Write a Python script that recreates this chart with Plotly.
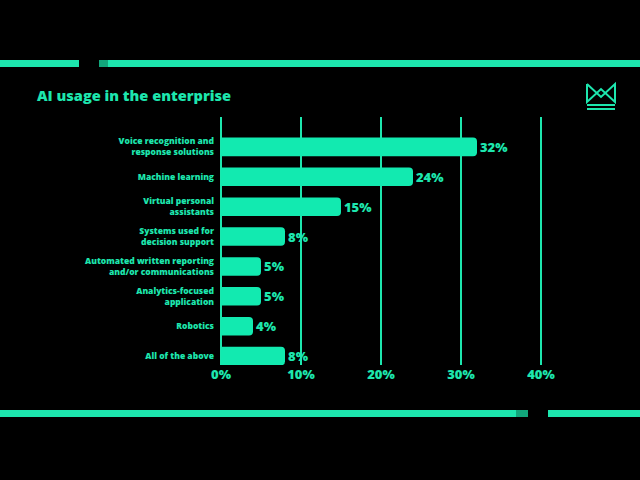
import plotly.graph_objects as go

categories = [
    "Voice recognition and<br>response solutions",
    "Machine learning",
    "Virtual personal<br>assistants",
    "Systems used for<br>decision support",
    "Automated written reporting<br>and/or communications",
    "Analytics-focused<br>application",
    "Robotics",
    "All of the above",
]
values = [32, 24, 15, 8, 5, 5, 4, 8]
x_ticks = [0, 10, 20, 30, 40]
x_tick_labels = ["0%", "10%", "20%", "30%", "40%"]
title_text = "AI usage in the enterprise"

MINT = "#1de6ae"
BAR = "#12eab0"
FONT = "Open Sans"

fig = go.Figure()
fig.add_trace(go.Bar(
    x=values,
    y=categories,
    orientation="h",
    width=0.62,
    marker=dict(color=BAR, line=dict(width=0)),
    text=[f"{v}%" for v in values],
    textposition="outside",
    cliponaxis=False,
    textfont=dict(family=FONT, size=13, color=MINT, weight=800),
))

L, R, T, B = 221, 95, 117, 115
fig.update_layout(
    width=640,
    height=480,
    paper_bgcolor="black",
    plot_bgcolor="black",
    margin=dict(l=L, r=R, t=T, b=B),
    barcornerradius=4,
    showlegend=False,
    xaxis=dict(
        range=[0, 40.5],
        tickvals=x_ticks,
        ticktext=x_tick_labels,
        showgrid=True,
        gridcolor=MINT,
        gridwidth=2,
        zeroline=True,
        zerolinecolor=MINT,
        zerolinewidth=2,
        showline=False,
        tickfont=dict(family=FONT, size=13, color=MINT, weight=800),
        ticks="",
        fixedrange=True,
    ),
    yaxis=dict(
        range=[7.3, -1.0],
        showgrid=False,
        zeroline=False,
        showline=False,
        ticks="",
        ticklabelstandoff=6,
        tickfont=dict(family=FONT, size=8.5, color=MINT, weight=800),
        fixedrange=True,
    ),
)

plot_w = 640 - L - R
plot_h = 480 - T - B
def px_x(px):
    return (px - L) / plot_w
def px_y(py):
    return (480 - B - py) / plot_h

fig.add_annotation(
    text=title_text,
    x=px_x(35), y=px_y(95), xref="paper", yref="paper",
    xanchor="left", yanchor="middle", showarrow=False,
    font=dict(family=FONT, size=14.6, color=MINT, weight=800),
)

# Decorative strips
shapes = []
def rect(x0, x1, y0, y1, color):
    shapes.append(dict(type="rect", xref="paper", yref="paper",
                       x0=px_x(x0), x1=px_x(x1), y0=px_y(y1), y1=px_y(y0),
                       fillcolor=color, line=dict(width=0), layer="above"))

rect(0, 79, 60, 67, MINT)
rect(99, 108, 60, 67, "#12a77c")
rect(108, 640, 60, 67, MINT)
rect(0, 516, 410, 417, MINT)
rect(516, 528, 410, 417, "#12a77c")
rect(548, 640, 410, 417, MINT)

# Small logo mark (top right)
logo_pts = [(587, 84), (601, 97), (615, 84), (615, 102), (601, 89), (587, 102), (587, 84)]
path = "M " + " L ".join(f"{px_x(a)},{px_y(b)}" for a, b in logo_pts)
shapes.append(dict(type="path", xref="paper", yref="paper", path=path,
                   line=dict(color=MINT, width=2)))
rect(587, 615, 104, 106, MINT)
rect(587, 615, 108, 110, MINT)
fig.update_layout(shapes=shapes)

fig.write_html(
    "out.html",
    config={"displayModeBar": False},
    post_script="document.body.style.margin='0';document.body.style.background='black';",
)
